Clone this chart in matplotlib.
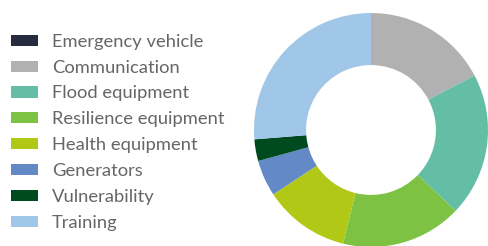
import matplotlib.pyplot as plt
from matplotlib.patches import Patch

# data read from the donut (share of total, %)
labels = ['Emergency vehicle', 'Communication', 'Flood equipment', 'Resilience equipment',
          'Health equipment', 'Generators', 'Vulnerability', 'Training']
values = [0.0, 17.3, 19.9, 16.7, 11.9, 5.0, 3.0, 26.3]
colors = ['#262b3d', '#b1b1b1', '#64bea5', '#7dc243', '#b1c916', '#6389c7', '#004a1f', '#a0c7e8']

plt.rcParams['font.family'] = ['Lato', 'DejaVu Sans']

fig = plt.figure(figsize=(4.89, 2.46), dpi=100)

# donut, partly cut off on the right and bottom like the original
ax = fig.add_axes([254 / 489, -1 / 246, 234 / 489, 234 / 246])
ax.pie(values, colors=colors, startangle=90, counterclock=False, radius=1,
       wedgeprops=dict(width=0.445, edgecolor='none'))
ax.set_xlim(-1, 1)
ax.set_ylim(-1, 1)
ax.set_aspect('equal')
ax.axis('off')

handles = [Patch(facecolor=c, edgecolor='none') for c in colors]
leg = fig.legend(handles, labels, loc='upper left', bbox_to_anchor=(7 / 489, 1 - 30 / 246),
                 frameon=False, fontsize=13.2, handlelength=1.5, handleheight=0.55,
                 handletextpad=0.75, labelspacing=0.54, borderaxespad=0, borderpad=0.2)
for t in leg.get_texts():
    t.set_color('#666666')

fig.savefig('out.png', dpi=100)
